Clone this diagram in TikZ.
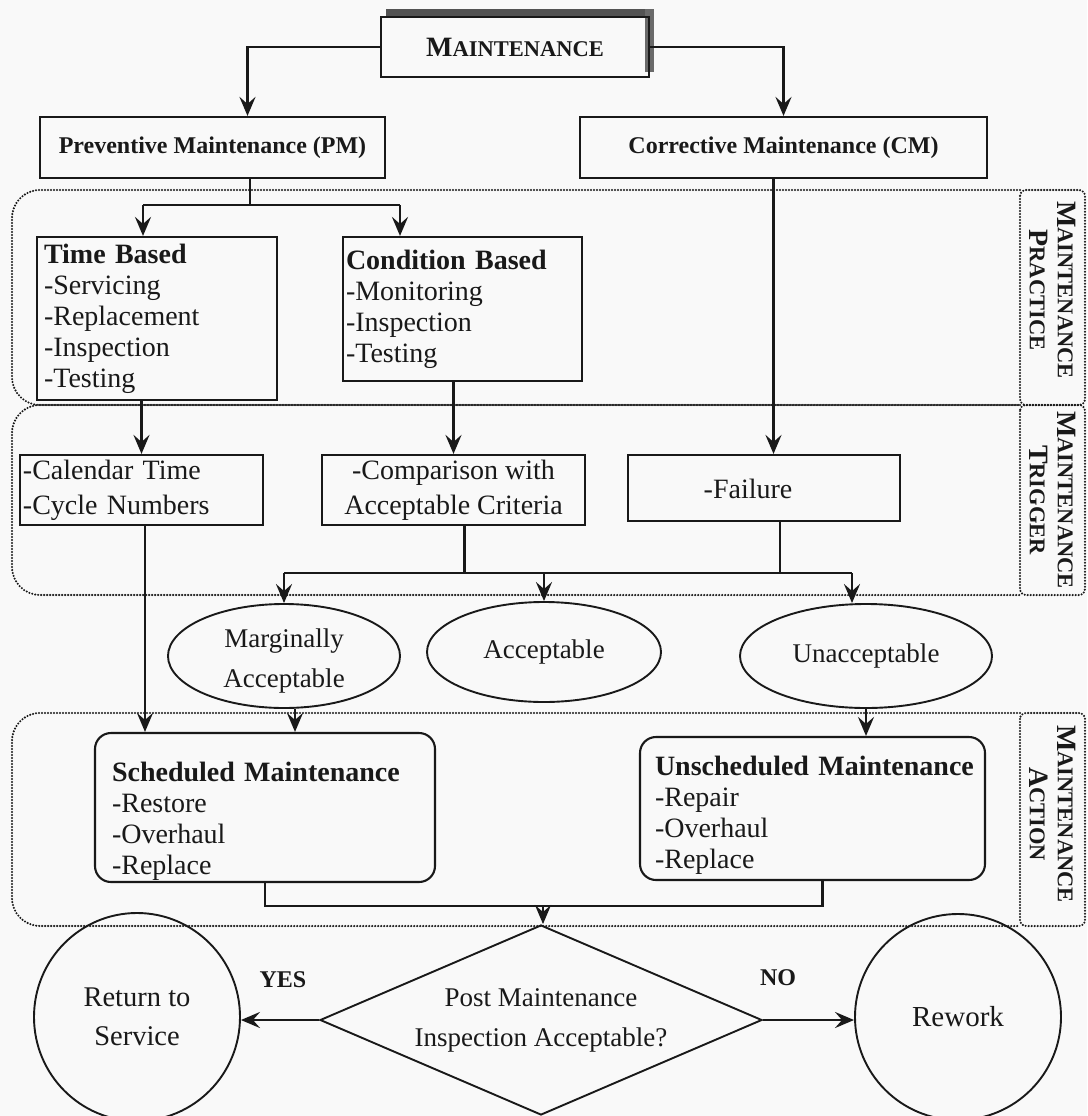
\documentclass[tikz,border=0pt]{standalone}
\usepackage{fontspec}
\setmainfont{Liberation Serif}
\usetikzlibrary{shapes.geometric,arrows.meta,calc}
% bold small capitals built from two sizes of capitals
\newcommand{\bsc}[2]{{\fontsize{28}{29}\selectfont\bfseries #1}{\fontsize{22.5}{29}\selectfont\bfseries #2}}
\definecolor{ink}{RGB}{25,25,25}
\definecolor{paper}{RGB}{249,249,249}
\begin{document}
\begin{tikzpicture}[x=1pt,y=-1pt,
  every node/.style={font=\fontsize{28}{31}\selectfont, inner sep=0pt, text=ink},
  box/.style={draw=ink, line width=2.1pt},
  rbox/.style={box, rounded corners=16pt},
  ell/.style={draw=ink, line width=1.9pt, ellipse},
  line/.style={draw=ink, line width=2.8pt},
  arr/.style={line, -{Stealth[length=19pt,width=16pt,inset=7pt]}},
  region/.style={draw=ink, line width=2.3pt, dash pattern=on 0pt off 3pt, line cap=round},
  tag/.style={rotate=-90, align=center, font=\fontsize{22.5}{28}\selectfont},
  head/.style={font=\fontsize{24}{28}\selectfont\bfseries}
]
\useasboundingbox (0,0) rectangle (1087,1116);
\fill[paper] (0,0) rectangle (1087,1116);

% dotted bands with their side tags
\draw[region, rounded corners=28pt] (1020,190) -- (12,190) -- (12,405) -- (1020,405);
\draw[region, rounded corners=6pt] (1020,190) rectangle (1085,405);
\draw[region, rounded corners=28pt] (1020,405) -- (12,405) -- (12,595) -- (1020,595);
\draw[region, rounded corners=6pt] (1020,405) rectangle (1085,595);
\draw[region, rounded corners=28pt] (1020,713) -- (12,713) -- (12,926) -- (1020,926);
\draw[region, rounded corners=6pt] (1020,713) rectangle (1085,926);
\node[tag] (tprac) at (1053,290) {\bsc{M}{AINTENANCE}\\\bsc{P}{RACTICE}};
\node[tag] (ttrig) at (1053,500) {\bsc{M}{AINTENANCE}\\\bsc{T}{RIGGER}};
\node[tag] (tact) at (1053,814) {\bsc{M}{AINTENANCE}\\\bsc{A}{CTION}};

% top level
\fill[ink!75] (386,9) rectangle (654,17);
\fill[ink!65] (645,9) rectangle (654,72);
\node[box, minimum width=268, minimum height=60] (main) at (515,47) {\bsc{M}{AINTENANCE}};
\node[box, head, minimum width=345, minimum height=61] (pm) at (212.5,147.5) {Preventive Maintenance (PM)};
\node[box, head, minimum width=407, minimum height=61] (cm) at (783.5,147.5) {Corrective Maintenance (CM)};

% practice
\node[box, minimum width=240, minimum height=163, text width=226, align=left] (tb) at (157,318.5)
  {\textbf{Time Based}\\-Servicing\\-Replacement\\-Inspection\\-Testing};
\node[box, minimum width=239, minimum height=144, text width=233, align=left] (cb) at (462.5,309)
  {\textbf{Condition Based}\\-Monitoring\\-Inspection\\-Testing};

% trigger
\node[box, minimum width=243, minimum height=70, text width=237, align=left,
  font=\fontsize{28}{35}\selectfont] (cal) at (141.5,490) {-Calendar Time\\-Cycle Numbers};
\node[box, minimum width=263, minimum height=70, align=center,
  font=\fontsize{28}{35}\selectfont] (cmp) at (453.5,490) {-Comparison with\\Acceptable Criteria};
\node[box, minimum width=272, minimum height=66] (fl) at (764,488) {};
\node (fltxt) at (748,489) {-Failure};

% outcomes
\node[ell, minimum width=232, minimum height=104] (marg) at (284,656) {};
\node[align=center, font=\fontsize{27}{40}\selectfont] (margtxt) at (284,661) {Marginally\\Acceptable};
\node[ell, minimum width=234, minimum height=100, font=\fontsize{27}{31}\selectfont] (acc) at (544,652) {Acceptable};
\node[ell, minimum width=252, minimum height=104, font=\fontsize{27}{31}\selectfont] (unacc) at (866,656) {Unacceptable};

% action
\node[rbox, minimum width=340, minimum height=149] (sch) at (265,807.5) {};
\node[text width=318, align=left] (schtxt) at (271,821)
  {\textbf{Scheduled Maintenance}\\-Restore\\-Overhaul\\-Replace};
\node[rbox, minimum width=345, minimum height=143] (uns) at (812.5,808.5) {};
\node[text width=330, align=left] (unstxt) at (820,815)
  {\textbf{Unscheduled Maintenance}\\-Repair\\-Overhaul\\-Replace};

% decision
\node[draw=ink, line width=1.9pt, diamond, aspect=2.33, minimum width=442, minimum height=190, align=center,
  font=\fontsize{27}{40}\selectfont] (dia) at (541,1020) {Post Maintenance\\Inspection Acceptable?};
\node[ell, minimum width=206, minimum height=208, align=center, font=\fontsize{28.5}{39}\selectfont] (ret) at (137,1017) {Return to\\Service};
\node[ell, minimum width=206, minimum height=206, font=\fontsize{29}{31}\selectfont] (rw) at (958,1017) {Rework};
\node[head] (yes) at (283,980) {YES};
\node[head] (no) at (778,978) {NO};

% connectors
\draw[arr] (main.west) -| ($(pm.north)+(35,0)$);
\draw[arr] (main.east) -| (cm.north);
\coordinate (s1) at (250,205);
\draw[line] (pm.south -| s1) -- (s1);
\coordinate (b1) at (143,205);
\coordinate (b2) at (400,205);
\draw[line] (b1) -- (b2);
\draw[arr] (b1) -- (b1 |- tb.north);
\draw[arr] (b2) -- (b2 |- cb.north);
\draw[arr] ($(cm.south)+(-10,0)$) coordinate (c1) -- (c1 |- fl.north);
\draw[arr] (cal.north |- tb.south) -- (cal.north);
\draw[arr] (cmp.north |- cb.south) -- (cmp.north);

\coordinate (bar) at (0,573);
\draw[line] ($(cmp.south)+(11,0)$) coordinate (c2) -- (c2 |- bar);
\draw[line] ($(fl.south)+(16,0)$) coordinate (c3) -- (c3 |- bar);
\draw[line] (marg.north |- bar) -- ($(unacc.north |- bar)+(-14,0)$);
\draw[arr] (marg.north |- bar) -- (marg.north);
\draw[arr] (acc.north |- bar) -- (acc.north);
\draw[arr] ($(unacc.north |- bar)+(-14,0)$) coordinate (c4) -- ($(unacc.north)+(-14,0)$);

\draw[arr] (cal.south -| 145,0) -- (sch.north -| 145,0);
\draw[arr] ($(marg.south)+(11,0)$) coordinate (c5) -- (c5 |- sch.north);
\draw[arr] (unacc.south) -- (unacc.south |- uns.north);

\coordinate (m) at (543,906);
\draw[line] (sch.south) -- (sch.south |- m) -- ($(uns.south |- m)+(10,0)$) -- ($(uns.south)+(10,0)$);
\draw[arr] (m) -- (m |- dia.north);
\draw[arr] (dia.west) -- (ret.east |- dia.west);
\draw[arr] (dia.east) -- (rw.west |- dia.east);
\end{tikzpicture}
\end{document}
